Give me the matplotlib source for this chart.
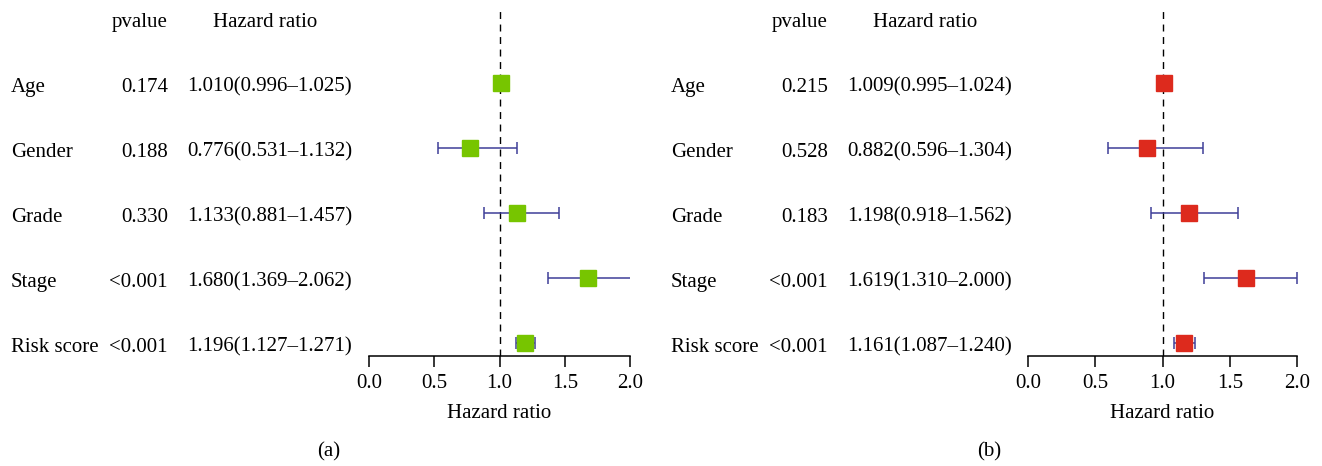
import matplotlib
matplotlib.use("Agg")
import matplotlib.pyplot as plt
import matplotlib.transforms as mtransforms

plt.rcParams['font.family'] = ['Liberation Serif', 'DejaVu Serif']

variables = ["Age", "Gender", "Grade", "Stage", "Risk score"]

# panel (a)
pval_a = ["0.174", "0.188", "0.330", "<0.001", "<0.001"]
hr_a = [1.010, 0.776, 1.133, 1.680, 1.196]
low_a = [0.996, 0.531, 0.881, 1.369, 1.127]
high_a = [1.025, 1.132, 1.457, 2.062, 1.271]

# panel (b)
pval_b = ["0.215", "0.528", "0.183", "<0.001", "<0.001"]
hr_b = [1.009, 0.882, 1.198, 1.619, 1.161]
low_b = [0.995, 0.596, 0.918, 1.310, 1.087]
high_b = [1.024, 1.304, 1.562, 2.000, 1.240]

xticks = [0.0, 0.5, 1.0, 1.5, 2.0]

W, H = 1322, 466
fs = 15
fig = plt.figure(figsize=(W / 100, H / 100), dpi=100)


def forest(ax_left, ax_width, text_off, hr, low, high, pvals, color, caption):
    ax = fig.add_axes([ax_left / W, (H - 356) / H, ax_width / W, 346 / H])
    n = len(variables)
    ys = [n - i for i in range(n)]
    xerr = [[h - l for h, l in zip(hr, low)], [u - h for h, u in zip(hr, high)]]
    ax.errorbar(hr, ys, xerr=xerr, fmt='none', ecolor='#3f3f98', elinewidth=1.1,
                capsize=4.5, capthick=1.1, zorder=2)
    ax.plot(hr, ys, 's', color=color, markersize=11.5, zorder=3)
    ax.axvline(1.0, color='black', lw=1.0, ls=(0, (5, 4)), zorder=1)
    ax.set_xlim(0, 2)
    ax.set_ylim(1 - 13.3 / 65, 1 + 332.7 / 65)
    ax.set_xticks(xticks)
    ax.set_xticklabels([f"{t:.1f}" for t in xticks], fontsize=fs)
    ax.set_yticks([])
    for s in ["top", "left", "right"]:
        ax.spines[s].set_visible(False)
    ax.spines["bottom"].set_linewidth(1.1)
    ax.tick_params(axis='x', length=8, width=1.1, pad=5)
    ax.set_xlabel("Hazard ratio", fontsize=fs, labelpad=8)

    tr = mtransforms.blended_transform_factory(fig.transFigure, ax.transData)
    off = 0.14
    for y, name, p, h, l, u in zip(ys, variables, pvals, hr, low, high):
        fig.text((text_off + 11) / W, y - off, name, transform=tr, fontsize=fs,
                 ha='left', va='baseline')
        fig.text((text_off + 168) / W, y - off, p, transform=tr, fontsize=fs,
                 ha='right', va='baseline')
        fig.text((text_off + 187) / W, y - off, f"{h:.3f}({l:.3f}\u2013{u:.3f})",
                 transform=tr, fontsize=fs, ha='left', va='baseline')
    fig.text((text_off + 168) / W, n + 1 - off, "pvalue", transform=tr, fontsize=fs,
             ha='right', va='baseline')
    fig.text((text_off + 265) / W, n + 1 - off, "Hazard ratio", transform=tr,
             fontsize=fs, ha='center', va='baseline')
    fig.text((text_off + 329) / W, 1 - 452 / H, caption, fontsize=fs,
             ha='center', va='center')
    return ax


forest(369, 261, 0, hr_a, low_a, high_a, pval_a, '#77c500', "(a)")
forest(1028, 269, 660, hr_b, low_b, high_b, pval_b, '#dd2a1d', "(b)")

fig.savefig("out.png", dpi=100)
